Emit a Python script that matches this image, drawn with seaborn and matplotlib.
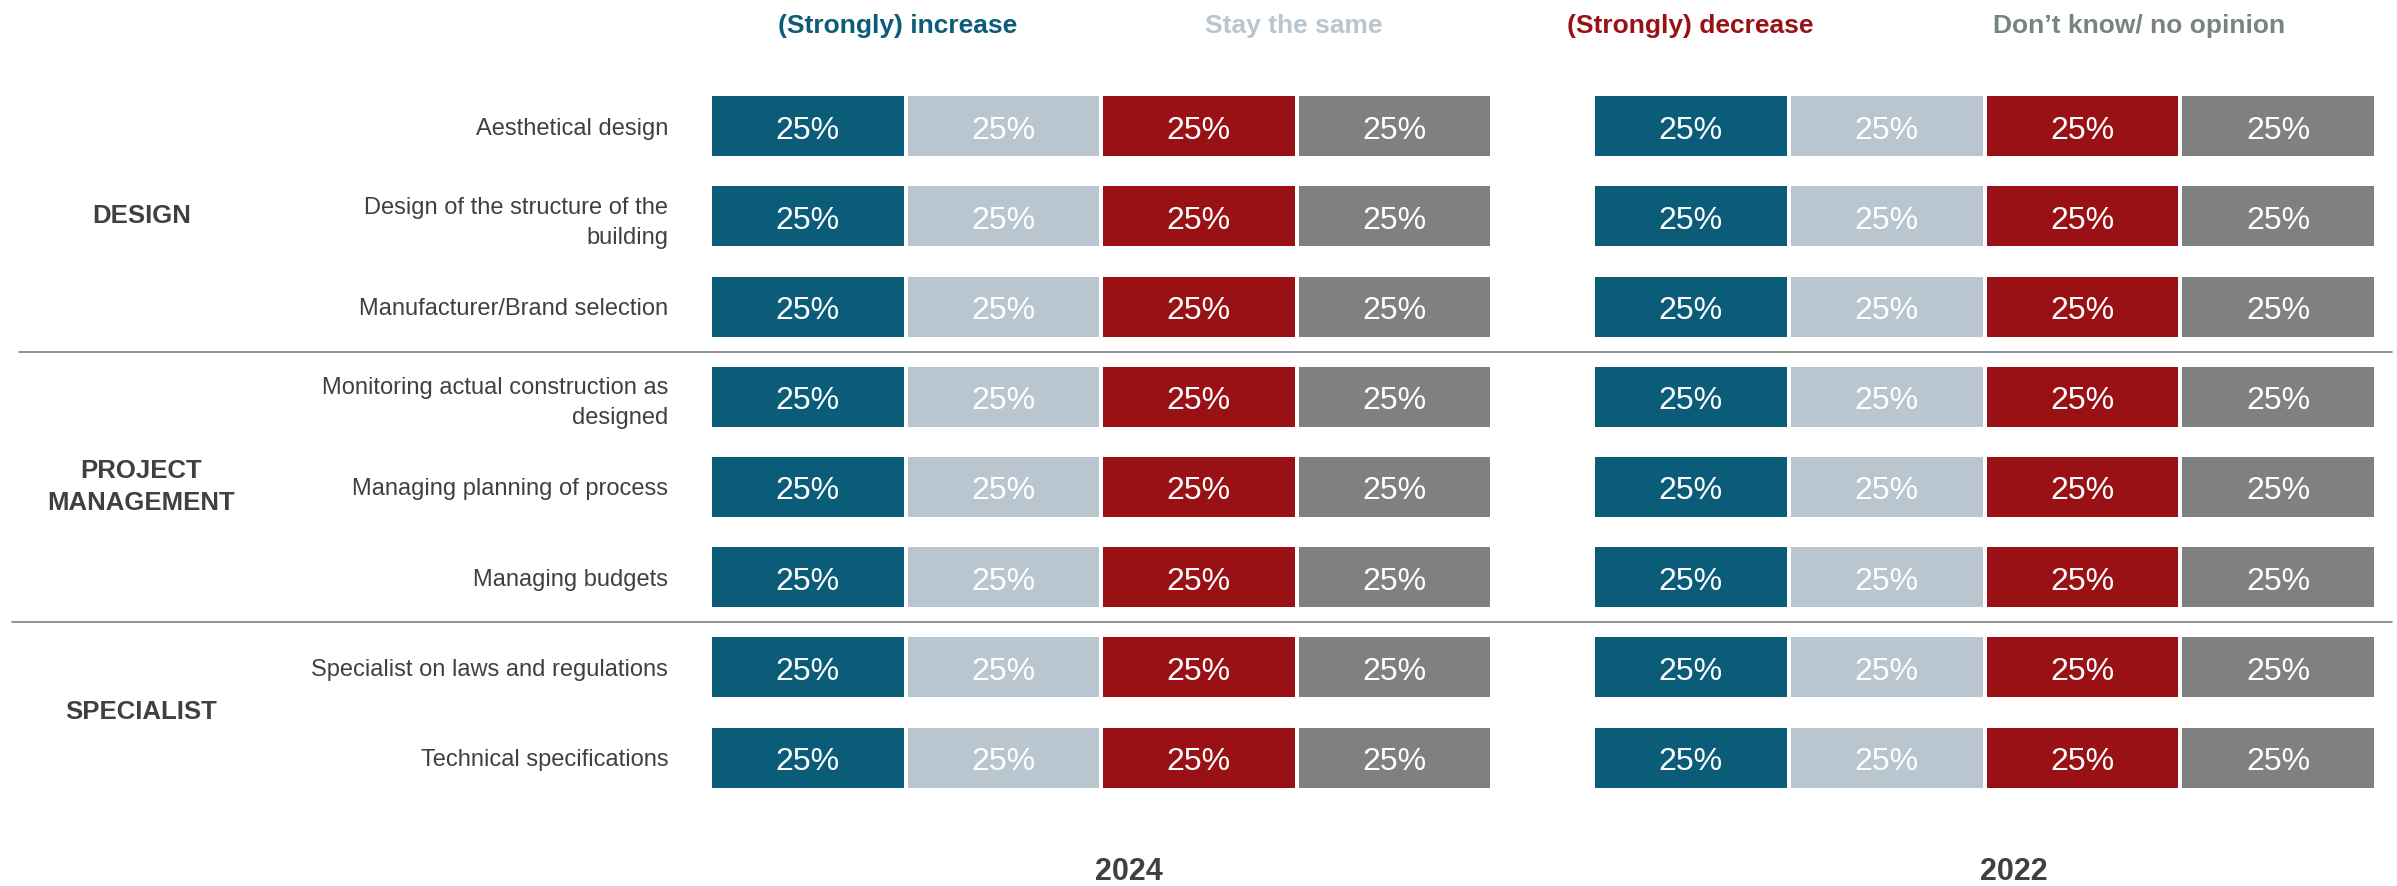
import numpy as np
import pandas as pd
import matplotlib
matplotlib.use("Agg")
import matplotlib.pyplot as plt
import seaborn as sns

# ---- data -------------------------------------------------------------
items = [
    "Aesthetical design",
    "Design of the structure of the\nbuilding",
    "Manufacturer/Brand selection",
    "Monitoring actual construction as\ndesigned",
    "Managing planning of process",
    "Managing budgets",
    "Specialist on laws and regulations",
    "Technical specifications",
]
groups = ["DESIGN", "PROJECT\nMANAGEMENT", "SPECIALIST"]
group_rows = [(0, 2), (3, 5), (6, 7)]

responses = ["(Strongly) increase", "Stay the same", "(Strongly) decrease", "Don\u2019t know/ no opinion"]
years = ["2024", "2022"]

increase_2024 = [25, 25, 25, 25, 25, 25, 25, 25]
same_2024 = [25, 25, 25, 25, 25, 25, 25, 25]
decrease_2024 = [25, 25, 25, 25, 25, 25, 25, 25]
dontknow_2024 = [25, 25, 25, 25, 25, 25, 25, 25]

increase_2022 = [25, 25, 25, 25, 25, 25, 25, 25]
same_2022 = [25, 25, 25, 25, 25, 25, 25, 25]
decrease_2022 = [25, 25, 25, 25, 25, 25, 25, 25]
dontknow_2022 = [25, 25, 25, 25, 25, 25, 25, 25]

series = {
    "2024": [increase_2024, same_2024, decrease_2024, dontknow_2024],
    "2022": [increase_2022, same_2022, decrease_2022, dontknow_2022],
}

bar_colors = ["#0B5C79", "#B9C5CF", "#991115", "#808080"]
header_colors = ["#0B5C79", "#B9C5CF", "#991115", "#788383"]
text_dark = "#404040"

# long table with cumulative right edges for stacking
rows = []
for yr in years:
    for r_i, resp in enumerate(responses):
        for it_i, it in enumerate(items):
            rows.append({"year": yr, "response": resp, "item": it,
                         "value": series[yr][r_i][it_i]})
df = pd.DataFrame(rows)
df["response"] = pd.Categorical(df["response"], responses, ordered=True)
df = df.sort_values(["year", "item", "response"])
df["right"] = df.groupby(["year", "item"], observed=True)["value"].cumsum()
df["left"] = df["right"] - df["value"]

# ---- figure -----------------------------------------------------------
W, H = 2397, 886
sns.set_theme(style="white")
plt.rcParams["font.family"] = ["Liberation Sans", "DejaVu Sans"]

fig = plt.figure(figsize=(W / 100, H / 100), dpi=100)


def fx(px):
    return px / W


def fy(py):
    return 1 - py / H


row_top, row_bottom = 81.2, 802.6
gap_px = 4
lw_pt = gap_px * 72 / 100
bar_h = (60 + gap_px) / ((row_bottom - row_top) / len(items))

panels = {"2024": (710, 1492), "2022": (1593, 2376)}
axes = {}
for yr in years:
    x0, x1 = panels[yr]
    ax = fig.add_axes([fx(x0), fy(row_bottom), fx(x1 - x0), (row_bottom - row_top) / H])
    axes[yr] = ax
    sub = df[df["year"] == yr]
    # draw cumulative bars from the widest to the narrowest so each segment shows
    for r_i in range(len(responses) - 1, -1, -1):
        part = sub[sub["response"] == responses[r_i]]
        sns.barplot(data=part, x="right", y="item", order=items, orient="h",
                    color=bar_colors[r_i], saturation=1, errorbar=None,
                    width=bar_h, edgecolor="white", linewidth=lw_pt, ax=ax)
    for _, r in sub.iterrows():
        ax.text((r["left"] + r["right"]) / 2, items.index(r["item"]) + 0.01,
                f"{r['value']:.0f}%", ha="center", va="center_baseline",
                color="white", fontsize=23)
    ax.set_xlim(0, 100)
    ax.set_ylim(len(items) - 0.5, -0.5)
    ax.set_xlabel("")
    ax.set_ylabel("")
    ax.set_xticks([])
    sns.despine(ax=ax, left=True, bottom=True)
    if yr == "2024":
        ax.tick_params(axis="y", length=0, pad=30, labelsize=17, labelcolor=text_dark)
        plt.setp(ax.get_yticklabels(), linespacing=1.45)
    else:
        ax.set_yticks([])

# response headers
header_x = [898, 1294, 1690, 2139]
for txt, x, c in zip(responses, header_x, header_colors):
    fig.text(fx(x), fy(26), txt, ha="center", va="center", fontsize=19,
             fontweight="bold", color=c)

# year captions below each panel
for yr, x in zip(years, [1129, 2014]):
    fig.text(fx(x), fy(872), yr, ha="center", va="center", fontsize=22,
             fontweight="bold", color=text_dark)

# group labels and separators
ax0 = axes["2024"]
for g, (a, b) in zip(groups, group_rows):
    yc = ax0.transData.transform((0, (a + b) / 2))[1]
    fig.text(fx(141.5), yc / fig.dpi / fig.get_figheight(), g, ha="center",
             va="center", fontsize=18.5, fontweight="bold", color=text_dark,
             linespacing=1.4)

for (a, b), xs in zip(group_rows[:-1], [19, 12]):
    yd = ax0.transData.transform((0, b + 0.5))[1] / fig.dpi / fig.get_figheight()
    fig.add_artist(plt.Line2D([fx(xs), fx(2392)], [yd, yd], color="#808080",
                              linewidth=1.2, transform=fig.transFigure))

fig.savefig("out.png", dpi=100)
